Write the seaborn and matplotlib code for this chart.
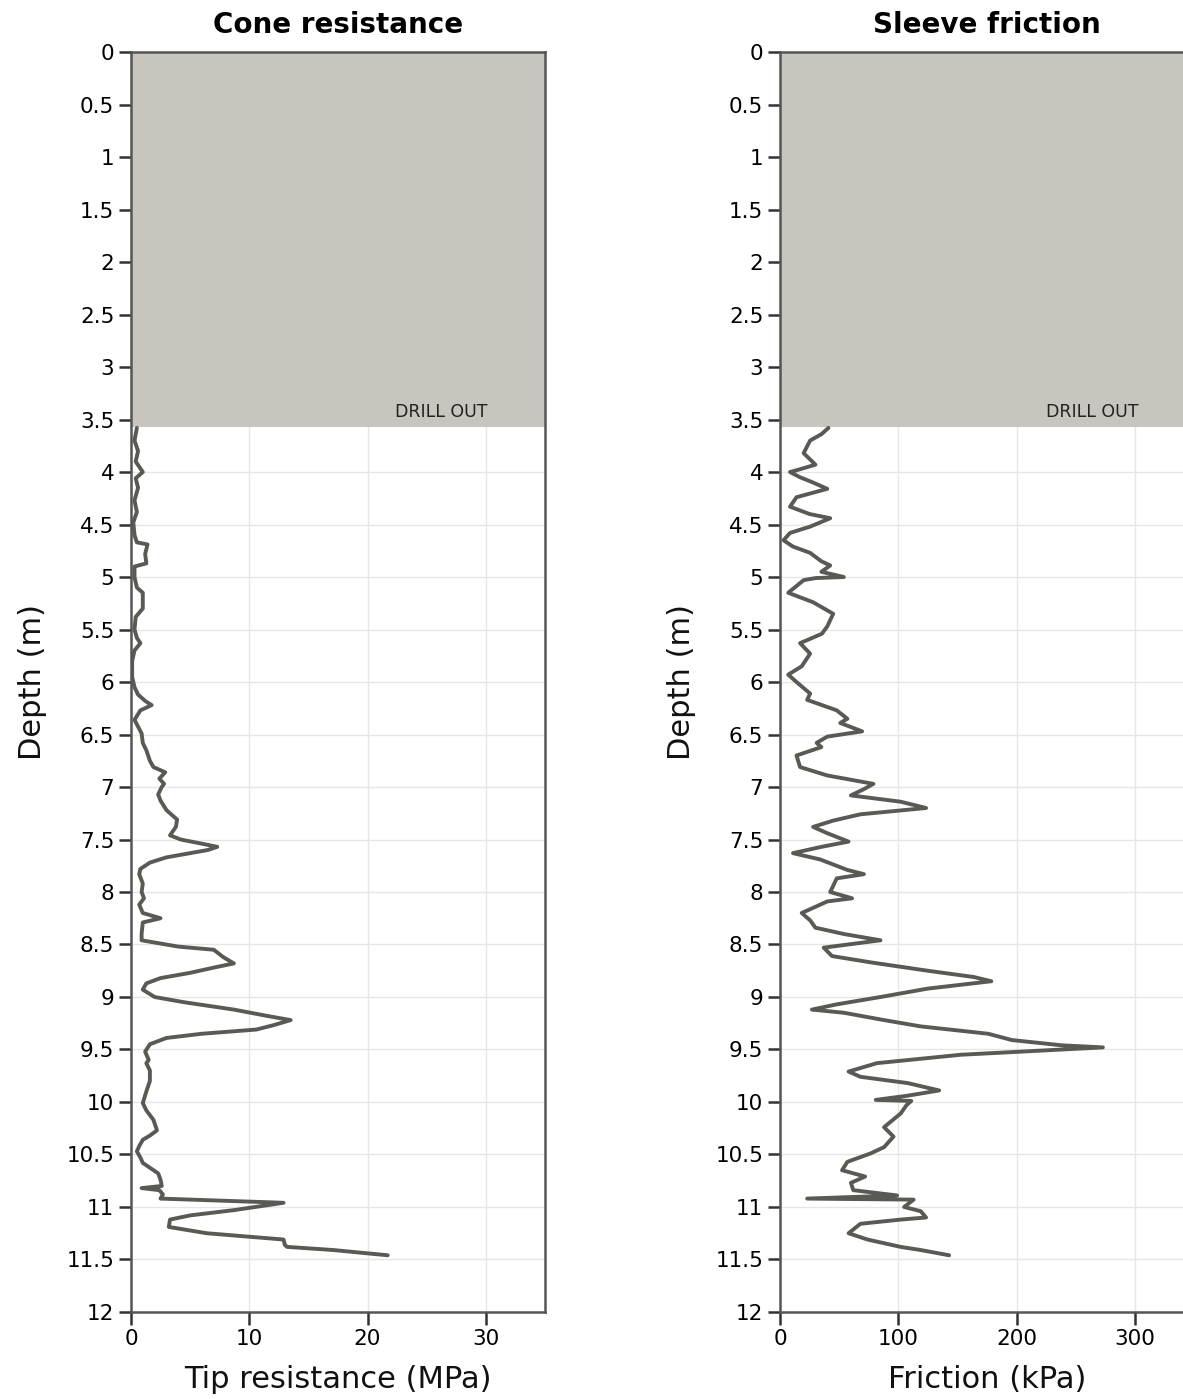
import numpy as np
import pandas as pd
import matplotlib
matplotlib.use("Agg")
import matplotlib.pyplot as plt
import seaborn as sns

# cone resistance profile (depth m, MPa)
cone_depth = [3.58, 3.70, 3.80, 3.90, 4.00, 4.06, 4.15, 4.27, 4.38, 4.48, 4.60, 4.67, 4.69, 4.78,
              4.87, 4.90, 5.00, 5.10, 5.15, 5.30, 5.38, 5.50, 5.58, 5.63, 5.70, 5.80, 5.95, 6.05,
              6.12, 6.18, 6.22, 6.27, 6.36, 6.49, 6.58, 6.65, 6.75, 6.81, 6.86, 6.92, 6.97, 7.00,
              7.07, 7.13, 7.22, 7.31, 7.38, 7.46, 7.50, 7.54, 7.57, 7.60, 7.63, 7.67, 7.72, 7.78,
              7.83, 7.92, 8.00, 8.06, 8.12, 8.20, 8.25, 8.29, 8.40, 8.46, 8.52, 8.55, 8.62, 8.68,
              8.72, 8.77, 8.82, 8.87, 8.93, 9.00, 9.05, 9.12, 9.18, 9.22, 9.27, 9.31, 9.35, 9.39,
              9.45, 9.52, 9.60, 9.63, 9.70, 9.80, 9.90, 10.01, 10.08, 10.17, 10.27, 10.32, 10.36,
              10.42, 10.47, 10.53, 10.58, 10.68, 10.74, 10.80, 10.82, 10.84, 10.88, 10.92, 10.96,
              11.03, 11.08, 11.12, 11.19, 11.25, 11.31, 11.36, 11.38, 11.41, 11.46]
cone_qc = [0.5, 0.3, 0.6, 0.4, 1.0, 0.4, 0.6, 0.3, 0.5, 0.2, 0.3, 0.5, 1.4, 1.2,
           1.3, 0.3, 0.3, 0.5, 1.0, 1.0, 0.4, 0.3, 0.5, 0.8, 0.3, 0.1, 0.1, 0.3,
           0.6, 1.2, 1.75, 0.8, 0.3, 0.9, 1.0, 1.3, 1.6, 1.9, 2.9, 2.4, 2.8, 2.6,
           2.3, 2.5, 3.0, 3.9, 3.8, 3.3, 4.2, 6.0, 7.3, 6.5, 5.0, 3.0, 1.6, 0.8,
           0.7, 1.0, 0.9, 1.1, 0.7, 1.0, 2.5, 1.0, 0.9, 0.9, 4.0, 7.0, 7.8, 8.7,
           7.0, 5.0, 2.5, 1.3, 1.0, 2.0, 4.5, 8.7, 11.5, 13.5, 12.0, 10.6, 6.0, 3.0,
           1.6, 1.2, 1.5, 1.3, 1.6, 1.6, 1.3, 1.0, 1.3, 1.9, 2.2, 1.6, 1.0,
           0.7, 0.5, 0.8, 1.0, 2.3, 2.5, 2.6, 0.9, 2.4, 2.7, 2.5, 12.9,
           8.7, 5.0, 3.3, 3.2, 6.4, 12.9, 13.0, 13.2, 17.1, 21.7]

# sleeve friction profile (depth m, kPa)
fric_depth = [3.58, 3.64, 3.70, 3.82, 3.93, 3.98, 4.00, 4.05, 4.10, 4.16, 4.24, 4.33, 4.40, 4.44,
              4.52, 4.58, 4.65, 4.71, 4.77, 4.85, 4.89, 4.95, 5.00, 5.01, 5.03, 5.15, 5.24, 5.35,
              5.47, 5.54, 5.63, 5.73, 5.85, 5.93, 6.00, 6.11, 6.17, 6.27, 6.35, 6.39, 6.47, 6.52,
              6.58, 6.62, 6.70, 6.81, 6.89, 6.97, 7.02, 7.08, 7.14, 7.20, 7.26, 7.32, 7.38, 7.44,
              7.52, 7.57, 7.63, 7.69, 7.79, 7.83, 7.87, 8.00, 8.06, 8.09, 8.20, 8.27, 8.34, 8.40,
              8.46, 8.53, 8.61, 8.67, 8.75, 8.81, 8.85, 8.92, 9.00, 9.07, 9.12, 9.15, 9.22, 9.28,
              9.35, 9.41, 9.46, 9.48, 9.55, 9.63, 9.71, 9.76, 9.82, 9.89, 9.94, 9.98, 9.99, 10.03,
              10.11, 10.24, 10.33, 10.43, 10.49, 10.57, 10.65, 10.71, 10.77, 10.84, 10.89, 10.92,
              10.93, 11.00, 11.04, 11.10, 11.12, 11.16, 11.25, 11.31, 11.38, 11.41, 11.46]
fric_fs = [41, 35, 25.5, 20, 30, 15, 8.5, 17, 28, 40, 14, 8.5, 25, 42.5,
           25.5, 8.5, 3, 11, 25.5, 35, 42.5, 35, 54, 30, 20, 7, 28, 45,
           40, 35.5, 17, 25.5, 18.4, 7, 14, 25.5, 23, 48, 57, 51, 69.5, 40,
           31, 35, 14, 17, 40, 79, 71, 60, 102, 123.5, 68, 45, 28, 40,
           58, 35, 11, 34, 57, 71, 48, 42.5, 61, 40, 18.4, 25.5, 30, 54,
           85, 37, 44, 76.6, 125, 164, 178.7, 125, 85, 48, 27, 54, 88, 119,
           176, 196, 238, 273, 153, 82, 58, 68, 108, 134.6, 108, 81, 111, 107,
           102, 88, 96, 88, 76.6, 57, 52.5, 72, 60, 62, 99, 23,
           113, 105, 119, 123.5, 102, 68, 58, 74, 102, 119, 143]

drill_out_depth = 3.57
depth_ticks = np.arange(0, 12.5, 0.5)

cone = pd.DataFrame({"depth": cone_depth, "qc": cone_qc})
fric = pd.DataFrame({"depth": fric_depth, "fs": fric_fs})

sns.set_style("whitegrid")
plt.rcParams["font.family"] = ["DejaVu Sans"]

line_col = "#5a5a55"
shade_col = "#c6c3bc"
frame_col = "#555555"

fig = plt.figure(figsize=(11.83, 13.99), dpi=100)
ax1 = fig.add_axes([0.1107, 0.0622, 0.35, 0.9006])
ax2 = fig.add_axes([0.6593, 0.0622, 0.35, 0.9006])

panels = [
    (ax1, cone, "qc", "Cone resistance", "Tip resistance (MPa)", 35, [0, 10, 20, 30], 26.2),
    (ax2, fric, "fs", "Sleeve friction", "Friction (kPa)", 350, [0, 100, 200, 300], 264),
]

for ax, df, col, title, xlabel, xmax, xticks, txt_x in panels:
    ax.axhspan(0, drill_out_depth, color=shade_col, alpha=0.96, zorder=0.6, lw=0)
    sns.lineplot(data=df, x=col, y="depth", sort=False, estimator=None,
                 color=line_col, lw=2.8, ax=ax)
    ax.set_xlim(0, xmax)
    ax.set_ylim(12, 0)
    ax.set_xticks(xticks)
    ax.set_yticks(depth_ticks)
    ax.set_yticklabels([f"{v:g}" for v in depth_ticks])
    ax.grid(True, color="#e6e6e6", lw=1.0)
    for s in ax.spines.values():
        s.set_color(frame_col)
        s.set_linewidth(1.8)
    ax.tick_params(axis="both", direction="out", length=9, width=1.8, color="#333333",
                   labelsize=15.5, labelcolor="black", pad=3, left=True, bottom=True)
    ax.set_title(title, fontsize=20, fontweight="bold", pad=14, color="black")
    ax.set_xlabel(xlabel, fontsize=22, labelpad=12, color="#111111")
    ax.set_ylabel("Depth (m)", fontsize=22, labelpad=14, color="#111111")
    ax.text(txt_x, drill_out_depth - 0.14, "DRILL OUT", fontsize=12.5, ha="center",
            va="center", color="#222222")

fig.savefig("out.png", dpi=100)
